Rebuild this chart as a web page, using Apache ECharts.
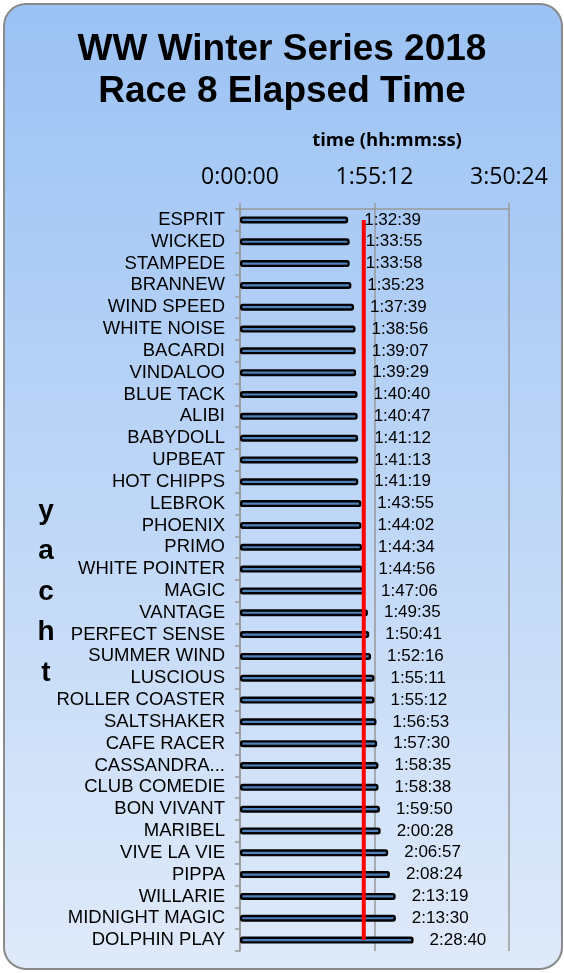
<!DOCTYPE html>
<html><head><meta charset="utf-8">
<style>html,body{margin:0;padding:0;background:#fff;}#c{width:564px;height:973px;}</style>
<script src="https://cdn.jsdelivr.net/npm/echarts@6/dist/echarts.min.js"></script>
</head><body><div id="c"></div>
<script>
const yachts = ['ESPRIT','WICKED','STAMPEDE','BRANNEW','WIND SPEED','WHITE NOISE','BACARDI','VINDALOO','BLUE TACK','ALIBI','BABYDOLL','UPBEAT','HOT CHIPPS','LEBROK','PHOENIX','PRIMO','WHITE POINTER','MAGIC','VANTAGE','PERFECT SENSE','SUMMER WIND','LUSCIOUS','ROLLER COASTER','SALTSHAKER','CAFE RACER','CASSANDRA...','CLUB COMEDIE','BON VIVANT','MARIBEL','VIVE LA VIE','PIPPA','WILLARIE','MIDNIGHT MAGIC','DOLPHIN PLAY'];
const elapsed = ['1:32:39','1:33:55','1:33:58','1:35:23','1:37:39','1:38:56','1:39:07','1:39:29','1:40:40','1:40:47','1:41:12','1:41:13','1:41:19','1:43:55','1:44:02','1:44:34','1:44:56','1:47:06','1:49:35','1:50:41','1:52:16','1:55:11','1:55:12','1:56:53','1:57:30','1:58:35','1:58:38','1:59:50','2:00:28','2:06:57','2:08:24','2:13:19','2:13:30','2:28:40'];
const xTicks = ['0:00:00','1:55:12','3:50:24'];
const refLineTime = '1:46:00';

function toSec(s){const p=s.split(':').map(Number);return p[0]*3600+p[1]*60+p[2];}
function fmt(v){v=Math.round(v);const h=Math.floor(v/3600),m=Math.floor((v%3600)/60),s=v%60;return h+':'+String(m).padStart(2,'0')+':'+String(s).padStart(2,'0');}
const secs = elapsed.map(toSec);
const tickSecs = xTicks.map(toSec);
const refSec = toSec(refLineTime);

const chart = echarts.init(document.getElementById('c'), null, {renderer:'canvas'});
chart.setOption({
  animation:false,
  graphic:[
    {type:'rect', z:-10, silent:true, shape:{x:4,y:4,width:558,height:965,r:22},
     style:{fill:new echarts.graphic.LinearGradient(0,0,0,1,[{offset:0,color:'#9bc2f4'},{offset:1,color:'#dfeafa'}]),stroke:'#8a8a8a',lineWidth:2}},
    {type:'text', x:387, y:141, style:{text:'time (hh:mm:ss)', font:'bold 18.5px "Open Sans", sans-serif', fill:'#000', align:'center', verticalAlign:'middle'}},
    {type:'text', x:46, y:592, style:{text:'y\na\nc\nh\nt', font:'bold 28px "Liberation Sans", Arial, sans-serif', lineHeight:40.5, fill:'#000', align:'center', verticalAlign:'middle'}}
  ],
  title:{text:'WW Winter Series 2018\nRace 8 Elapsed Time', left:'center', top:24,
    textStyle:{fontFamily:'"Liberation Sans", Arial, sans-serif', fontWeight:'bold', fontSize:37, lineHeight:42, color:'#000'}},
  grid:{left:240, right:55, top:209, bottom:22, containLabel:false},
  xAxis:{type:'value', position:'top', min:tickSecs[0], max:tickSecs[2], interval:tickSecs[1]-tickSecs[0],
    axisLine:{show:true, lineStyle:{color:'#999', width:1.5}},
    axisTick:{show:true, length:6, lineStyle:{color:'#999', width:1.5}},
    splitLine:{show:true, lineStyle:{color:'#999', width:1.5}},
    axisLabel:{margin:20, formatter:v=>fmt(v), fontFamily:'"Open Sans", sans-serif', fontSize:23, color:'#000'}},
  yAxis:{type:'category', inverse:true, data:yachts,
    axisLine:{show:true, lineStyle:{color:'#999', width:1.5}},
    axisTick:{show:true, length:5, lineStyle:{color:'#999', width:1.5}},
    axisLabel:{margin:15, fontFamily:'"Liberation Sans", Arial, sans-serif', fontSize:18.5, color:'#000', interval:0}},
  series:[
    {type:'bar', data:secs, barWidth:7,
     itemStyle:{color:'#4f81bd', borderColor:'#000', borderWidth:2.4, borderRadius:1.5},
     label:{show:true, position:'right', distance:16, formatter:p=>fmt(p.value), fontFamily:'"Liberation Sans", Arial, sans-serif', fontSize:17, color:'#000'}},
    {type:'line', z:5, data:[[refSec, yachts[0]],[refSec, yachts[yachts.length-1]]], symbol:'none',
     lineStyle:{color:'#ff0000', width:4}, silent:true}
  ]
});
</script></body></html>
